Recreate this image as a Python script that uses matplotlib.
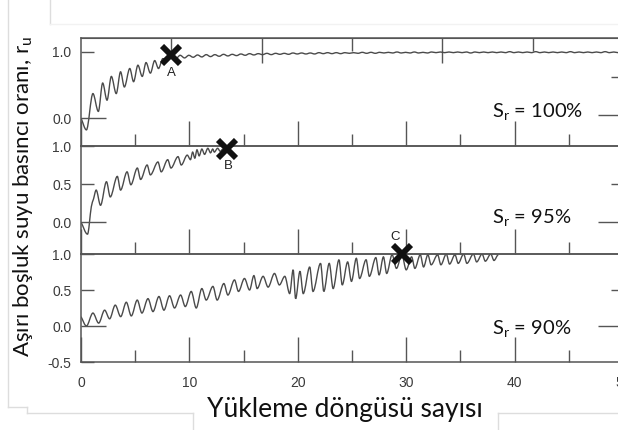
import numpy as np
import matplotlib.pyplot as plt
from matplotlib.lines import Line2D
from matplotlib.path import Path
from matplotlib.patches import PathPatch

plt.rcParams['mathtext.fontset'] = 'custom'
plt.rcParams['mathtext.rm'] = 'Lato'
plt.rcParams['mathtext.it'] = 'Lato:italic'

# Sr = 100 %  (first cycles, then the near-flat tail every half cycle)
cyc_100 = [0, 0.5, 1.1, 1.6, 2.0, 2.4, 2.8, 3.25, 3.65, 4.0, 4.5, 4.85, 5.25, 5.65,
           6.0, 6.4, 6.8, 7.15, 7.55]
ru_100 = [0, -0.18, 0.37, 0.10, 0.53, 0.27, 0.63, 0.37, 0.70, 0.47, 0.75, 0.55, 0.80, 0.63,
          0.84, 0.68, 0.87, 0.75, 0.90]
ru_100_tail = [0.88, 0.94, 0.90, 0.95, 0.91, 0.95, 0.92, 0.955, 0.925, 0.96, 0.93, 0.96,
               0.935, 0.965, 0.94, 0.965, 0.945, 0.97, 0.95, 0.975, 0.955, 0.975,
               0.96, 0.98, 0.96, 0.98, 0.965, 0.98, 0.965, 0.985, 0.97, 0.985, 0.97, 0.985,
               0.97, 0.99, 0.975, 0.99, 0.975, 0.99, 0.975, 0.99, 0.98, 0.99,
               0.98, 0.995, 0.98, 0.995, 0.98, 0.995, 0.985, 0.995, 0.985, 1.0, 0.985, 0.995,
               0.985, 1.0, 0.985, 0.995, 0.985, 1.0, 0.99, 1.0, 0.99, 1.0,
               0.99, 1.0, 0.99, 1.0, 0.985, 1.0, 0.99, 1.0, 0.99, 1.0, 0.99, 1.0,
               0.99, 1.005, 0.99, 1.0, 0.99, 1.0, 0.99, 1.005, 0.99, 1.0,
               0.99, 1.0, 0.99, 1.0, 0.99, 1.005, 0.99, 1.0, 0.99, 1.0, 0.99, 1.0,
               0.99, 1.005, 0.99, 1.0, 0.99, 1.0, 0.99, 1.0]
tail_start, tail_step = 7.95, 0.4

# Sr = 95 %
cyc_95 = [0, 0.6, 0.95, 1.15, 1.4, 1.8, 2.35, 2.7, 3.35, 3.65,
          4.25, 4.6, 5.2, 5.5, 6.1, 6.4, 7.1, 7.4, 8.0, 8.3,
          8.95, 9.25, 9.8, 10.1, 10.3, 10.5, 10.7, 10.9, 11.15, 11.4,
          11.7, 11.95, 12.15, 12.3, 12.6, 12.85, 13.1]
ru_95 = [0, -0.16, 0.20, 0.30, 0.42, 0.22, 0.53, 0.33, 0.60, 0.42,
         0.66, 0.49, 0.71, 0.56, 0.75, 0.62, 0.79, 0.66, 0.82, 0.71,
         0.86, 0.75, 0.88, 0.82, 0.92, 0.84, 0.95, 0.87, 0.96, 0.89,
         0.97, 0.91, 0.96, 0.92, 0.97, 0.93, 0.96]

# Sr = 90 %
cyc_90 = [0, 0.5, 1.1, 1.63, 2.18, 2.64, 3.16, 3.66, 4.18, 4.64,
          5.19, 5.62, 6.18, 6.64, 7.19, 7.65, 8.17, 8.63, 9.19, 9.62,
          10.17, 10.63, 11.15, 11.55, 12.17, 12.56, 13.18, 13.55, 14.16, 14.53,
          15.08, 15.55, 15.95, 16.25, 16.8, 17.26, 17.85, 18.3, 18.8, 19.25,
          19.57, 19.8, 20.2, 20.5, 21.1, 21.4, 22.1, 22.4, 22.9, 23.26,
          23.8, 24.1, 24.6, 24.95, 25.4, 25.7, 26.3, 26.6, 27.2, 27.5,
          27.9, 28.2, 28.7, 29.1, 29.6, 30.0, 30.5, 30.8, 31.3, 31.6,
          32.0, 32.3, 32.9, 33.2, 33.7, 34.0, 34.5, 34.8, 35.3, 35.6,
          36.2, 36.5, 37.0, 37.3, 37.8, 38.1, 38.5]
ru_90 = [0.13, 0.0, 0.18, 0.04, 0.22, 0.10, 0.29, 0.13, 0.33, 0.14,
         0.36, 0.18, 0.38, 0.20, 0.41, 0.22, 0.42, 0.25, 0.43, 0.27,
         0.48, 0.25, 0.52, 0.36, 0.55, 0.36, 0.59, 0.43, 0.64, 0.48,
         0.66, 0.50, 0.70, 0.52, 0.69, 0.54, 0.73, 0.57, 0.69, 0.45,
         0.78, 0.38, 0.76, 0.45, 0.82, 0.48, 0.87, 0.48, 0.87, 0.52,
         0.92, 0.57, 0.89, 0.62, 0.94, 0.66, 0.92, 0.69, 0.95, 0.71,
         0.96, 0.73, 0.99, 0.80, 0.99, 0.78, 0.96, 0.80, 0.99, 0.82,
         0.99, 0.85, 0.99, 0.85, 1.0, 0.86, 0.99, 0.87, 1.0, 0.87,
         1.0, 0.89, 1.0, 0.90, 1.0, 0.91, 0.99]

# liquefaction points
liq_x = [8.3, 13.5, 29.6]
liq_y = [0.95, 0.96, 1.0]
liq_lbl = ['A', 'B', 'C']

sat_lbl = ['100%', '95%', '90%']

GRAY = '#555555'
LINE = '#4a4a4a'

W, H = 618, 430
fig = plt.figure(figsize=(W / 100, H / 100), dpi=100)


def smooth_path(xs, ys):
    # cubic Hermite through the recorded peaks/troughs, flat at the extremes
    xs = np.asarray(xs, float)
    ys = np.asarray(ys, float)
    n = len(xs)
    m = np.zeros(n)
    for i in range(1, n - 1):
        d0 = ys[i] - ys[i - 1]
        d1 = ys[i + 1] - ys[i]
        if d0 * d1 > 0:
            m[i] = (ys[i + 1] - ys[i - 1]) / (xs[i + 1] - xs[i - 1])
    m[0] = (ys[1] - ys[0]) / (xs[1] - xs[0])
    verts = [(xs[0], ys[0])]
    codes = [Path.MOVETO]
    for i in range(n - 1):
        dx = xs[i + 1] - xs[i]
        verts += [(xs[i] + dx / 3, ys[i] + m[i] * dx / 3),
                  (xs[i + 1] - dx / 3, ys[i + 1] - m[i + 1] * dx / 3),
                  (xs[i + 1], ys[i + 1])]
        codes += [Path.CURVE4] * 3
    return Path(verts, codes)


def make_panel(top_px, ylim, yt_long, yt_short, ylabels_long, ylabels_short, right_long, right_short):
    ax = fig.add_axes([81 / W, 1 - (top_px + 108) / H, 542 / W, 108 / H])
    ax.set_facecolor('none')
    ax.set_xlim(0, 50)
    ax.set_ylim(*ylim)
    for s in ax.spines.values():
        s.set_color(GRAY)
        s.set_linewidth(1.1)
    ax.set_xticks(np.arange(0, 51, 10))
    ax.set_xticks(np.arange(5, 50, 10), minor=True)
    ax.set_yticks(yt_long, ylabels_long)
    ax.set_yticks(yt_short, ylabels_short, minor=True)
    ax.tick_params(which='both', direction='in', color=GRAY, width=1.0,
                   top=False, right=False, labelsize=10, labelcolor='#3a3a3a')
    ax.tick_params(which='major', length=18)
    ax.tick_params(which='minor', length=9)
    ax.tick_params(axis='y', which='both', pad=7)
    ax.tick_params(axis='x', which='both', pad=10)
    for lab in ax.get_xticklabels() + ax.get_yticklabels() + ax.get_yticklabels(minor=True):
        lab.set_fontfamily('Liberation Sans')
    sec = ax.secondary_yaxis('right')
    sec.spines['right'].set_color(GRAY)
    sec.set_yticks(right_long)
    sec.set_yticks(right_short, minor=True)
    sec.tick_params(which='both', direction='in', color=GRAY, width=1.0, labelright=False)
    sec.tick_params(which='major', length=18)
    sec.tick_params(which='minor', length=9)
    return ax


ax1 = make_panel(38, (-0.424, 1.212), [0.0], [1.0], ['0.0'], ['1.0'], [0.05], [0.62])
ax2 = make_panel(146, (-0.421, 1.0), [0.0], [0.5, 1.0], ['0.0'], ['0.5', '1.0'], [0.0], [0.5])
ax3 = make_panel(254, (-0.5, 1.0), [0.0], [-0.5, 0.5, 1.0], ['0.0'], ['-0.5', '0.5', '1.0'], [0.0], [0.5])
ax1.tick_params(axis='x', labelbottom=False)
ax2.tick_params(axis='x', labelbottom=False)

# top axis of the first panel carries its own tick spacing
top = ax1.secondary_xaxis('top')
top.spines['top'].set_color(GRAY)
top.set_xticks(50 / 6 * np.array([2, 4, 6]))
top.set_xticks(50 / 6 * np.array([1, 3, 5]), minor=True)
top.tick_params(which='both', direction='in', color=GRAY, width=1.0, labeltop=False)
top.tick_params(which='major', length=18)
top.tick_params(which='minor', length=9)

tail_x = tail_start + tail_step * np.arange(len(ru_100_tail))
series = [(ax1, cyc_100 + list(tail_x), ru_100 + ru_100_tail),
          (ax2, cyc_95, ru_95),
          (ax3, cyc_90, ru_90)]
for ax, xs, ys in series:
    ax.add_patch(PathPatch(smooth_path(xs, ys), fill=False, edgecolor=LINE, lw=1.0,
                           transform=ax.transData))

axes = [ax1, ax2, ax3]
lbl_off = [(0.05, -0.27), (0.05, -0.22), (-0.6, 0.24)]
for ax, x, y, t, off in zip(axes, liq_x, liq_y, liq_lbl, lbl_off):
    ax.plot(x, y, marker='x', ms=13, mew=4.2, color='#111111', clip_on=False, zorder=5)
    ax.text(x + off[0], y + off[1], t, ha='center', va='center', clip_on=False,
            family='Liberation Sans', fontsize=9.5, color='#222222', zorder=5)

# saturation labels
base_px = [117, 223, 334]
for s, b in zip(sat_lbl, base_px):
    fig.text(492 / W, 1 - b / H, r'S$_\mathrm{r}$ = ' + s, family='Lato', fontsize=14.5,
             va='baseline', ha='left', color='#111111')

fig.text(23 / W, 1 - 197 / H, r'Aşırı boşluk suyu basıncı oranı, r$_\mathrm{u}$', rotation=90,
         family='Lato', fontsize=16, ha='center', va='center', color='#111111')
fig.text(345 / W, 1 - 417 / H, 'Yükleme döngüsü sayısı', family='Lato', fontsize=19,
         ha='center', va='baseline', color='#111111')

# faint slide frame lines around the figure
frame = [([50, 50], [0, 24]), ([8, 8], [0, 407]), ([8, 27], [407, 407]),
         ([27, 27], [407, 413]), ([27, 193], [413, 413]), ([193, 193], [413, 430]),
         ([498, 618], [413, 413]), ([498, 498], [413, 430])]
for xs, ys in frame:
    fig.add_artist(Line2D([x / W for x in xs], [1 - y / H for y in ys], color='#dddddd', lw=1.0))
fig.add_artist(Line2D([50 / W, 1], [1 - 24 / H] * 2, color='#f2f2f2', lw=1.0))

fig.savefig('out.png', dpi=100)
